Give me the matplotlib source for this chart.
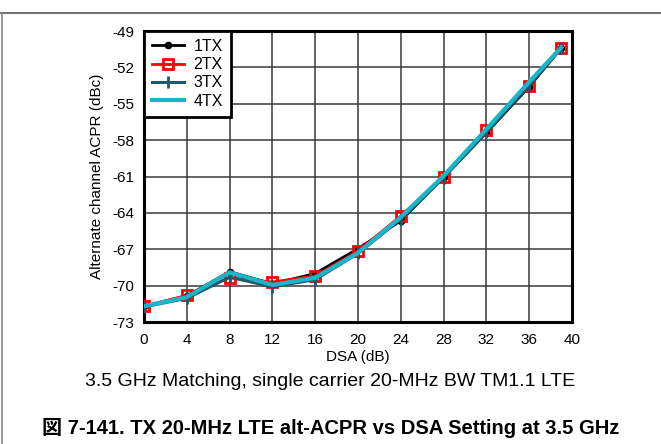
from matplotlib import pyplot as plt
from matplotlib.lines import Line2D

plt.rcParams['font.family'] = ['Liberation Sans', 'Noto Sans CJK JP']
plt.rcParams['axes.unicode_minus'] = False

# DSA setting (dB) and alt-ACPR (dBc) per TX channel
dsa = [0, 4, 8, 12, 16, 20, 24, 28, 32, 36, 39]
tx1 = [-71.7, -70.85, -68.85, -69.85, -69.0, -66.95, -64.65, -61.05, -57.4, -53.6, -50.4]
tx2 = [-71.7, -70.8, -69.35, -69.7, -69.2, -67.15, -64.25, -61.0, -57.2, -53.5, -50.4]
tx3 = [-71.75, -71.05, -69.3, -70.1, -69.5, -67.35, -64.5, -61.1, -57.35, -53.5, -50.4]
tx4 = [-71.7, -70.95, -68.9, -69.95, -69.35, -67.3, -64.35, -60.95, -57.1, -53.2, -50.35]

x_ticks = list(range(0, 41, 4))
y_ticks = list(range(-73, -48, 3))

fig = plt.figure(figsize=(6.61, 4.44), dpi=100)
ax = fig.add_axes([144/661, 1-322/444, 428/661, 291/444])

ax.plot(dsa, tx1, color='black', lw=2, marker='o', ms=4.5, label='1TX', zorder=3)
ax.plot(dsa, tx2, color='red', lw=2, marker='s', ms=6.5, mfc='none', mew=2, label='2TX', zorder=3)
ax.plot(dsa, tx3, color='#1d5a6a', lw=2.2, marker='|', ms=9, mew=2, label='3TX', zorder=4)
ax.plot(dsa, tx4, color='#19b5c8', lw=3, label='4TX', zorder=5)

ax.set_xlim(0, 40)
ax.set_ylim(-73, -49)
ax.set_xticks(x_ticks)
ax.set_yticks(y_ticks)
ax.tick_params(length=0, labelsize=11, pad=7)
ax.tick_params(axis='x', pad=8)
ax.grid(True, color='#3a3a3a', lw=1.1)
for s in ax.spines.values():
    s.set_linewidth(2.2)
ax.set_xlabel('DSA (dB)', fontsize=11, labelpad=2)
ax.set_ylabel('Alternate channel ACPR (dBc)', fontsize=11, labelpad=6)

leg = ax.legend(loc='upper left', borderaxespad=0, fancybox=False, fontsize=11.5,
                handlelength=2.0, handletextpad=0.6, labelspacing=0.2,
                borderpad=0.5, framealpha=1, edgecolor='black')
leg.get_frame().set_linewidth(2)

fig.text(0.5, 1-381/444, '3.5 GHz Matching, single carrier 20-MHz BW TM1.1 LTE',
         ha='center', va='center', fontsize=14)
fig.text(0.5, 1-428/444, '図 7-141. TX 20-MHz LTE alt-ACPR vs DSA Setting at 3.5 GHz',
         ha='center', va='center', fontsize=14.5, fontweight='bold')

# page frame
fig.add_artist(Line2D([0, 1], [1-13/444, 1-13/444], color='#555555', lw=1.2))
fig.add_artist(Line2D([1.5/661, 1.5/661], [0, 1-13/444], color='#888888', lw=1.2))

plt.savefig('out.png')
